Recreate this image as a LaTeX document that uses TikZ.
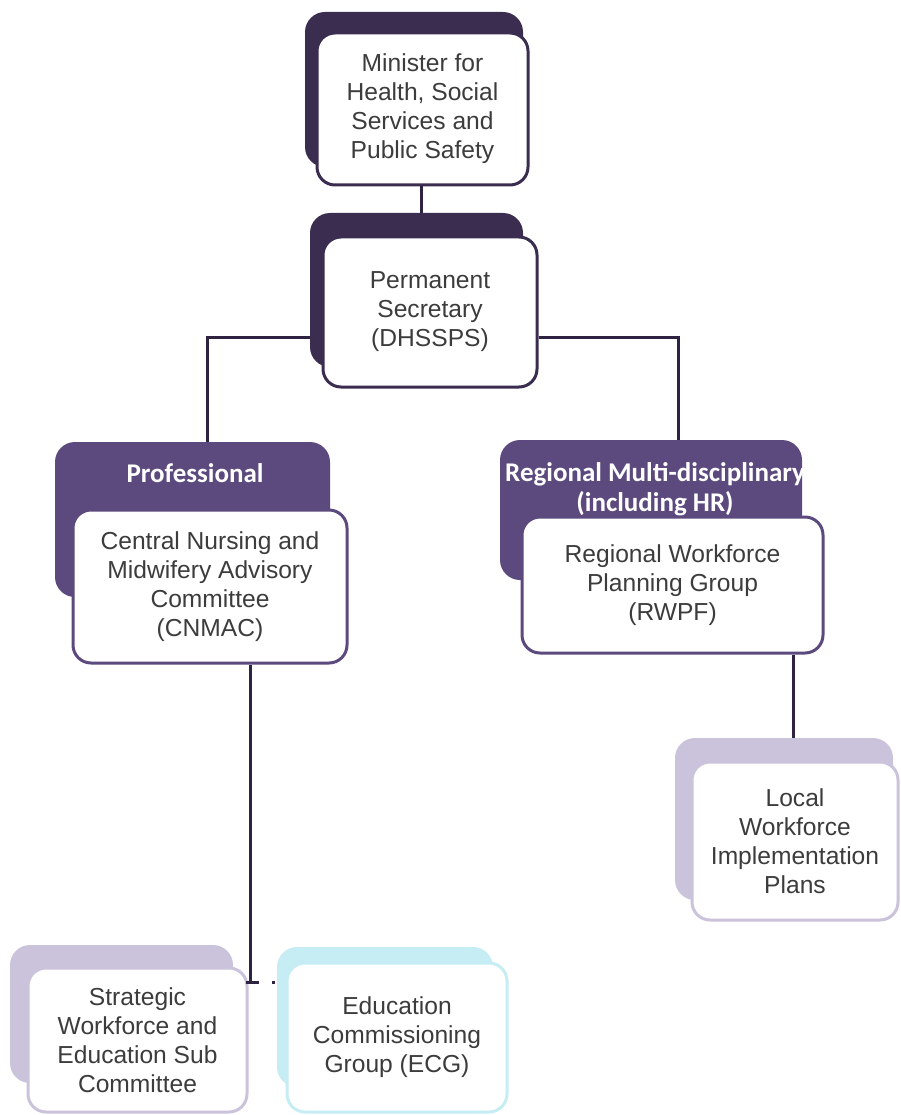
\documentclass[tikz,border=0pt]{standalone}
\usepackage{fontspec}
\setmainfont{Liberation Sans}
\newfontfamily\bodyfont{Liberation Sans}
\newfontfamily\hdrfont{Carlito}
\definecolor{darkp}{HTML}{3B2D50}
\definecolor{midp}{HTML}{5C4A7E}
\definecolor{lavp}{HTML}{CBC3DB}
\definecolor{cyanb}{HTML}{C6EDF4}
\definecolor{txtc}{HTML}{3C3C3C}
\definecolor{linec}{HTML}{2E2442}
\tikzset{
  backbox/.style={rounded corners=20pt, inner sep=0pt},
  frontbox/.style={rounded corners=18pt, fill=white, line width=3pt, inner sep=0pt,
    align=center, text=txtc, font=\bodyfont\fontsize{24.6}{29}\selectfont},
  hdr/.style={text=white, font=\hdrfont\bfseries\fontsize{27}{30}\selectfont, align=center},
  conn/.style={draw=linec, line width=3pt}
}
\begin{document}
\begin{tikzpicture}[x=1pt,y=-1pt]
\useasboundingbox (0,0) rectangle (900,1115);
% Minister
\node[backbox, fill=darkp, minimum width=218pt, minimum height=155pt] (minback) at (414,89.5) {};
\node[frontbox, draw=darkp, minimum width=211pt, minimum height=152pt] (minfront) at (422.5,109) {Minister for\\Health, Social\\Services and\\Public Safety};
% Permanent Secretary
\node[backbox, fill=darkp, minimum width=213pt, minimum height=154pt] (psback) at (416.5,290) {};
\node[frontbox, draw=darkp, minimum width=214pt, minimum height=150pt] (psfront) at (430,312) {Permanent\\Secretary\\(DHSSPS)};
% Professional
\node[backbox, fill=midp, minimum width=275pt, minimum height=155pt] (profback) at (192.5,519.5) {};
\node[hdr] (profhdr) at (195,473) {Professional};
\node[frontbox, draw=midp, minimum width=274pt, minimum height=153pt] (proffront) at (210,586.5) {Central Nursing and\\Midwifery Advisory\\Committee\\(CNMAC)};
% Regional
\node[backbox, fill=midp, minimum width=302pt, minimum height=140pt] (regback) at (651,510) {};
\node[hdr] (reghdr) at (655,489) {Regional Multi-disciplinary\\(including HR)};
\node[frontbox, draw=midp, minimum width=301pt, minimum height=136pt] (regfront) at (672.5,585) {Regional Workforce\\Planning Group\\(RWPF)};
% Local
\node[backbox, fill=lavp, minimum width=218pt, minimum height=162pt] (locback) at (784,819) {};
\node[frontbox, draw=lavp, minimum width=206pt, minimum height=158pt] (locfront) at (795,841) {Local\\Workforce\\Implementation\\Plans};
% Strategic
\node[backbox, fill=lavp, minimum width=223pt, minimum height=138pt] (strback) at (121.5,1014) {};
\node[frontbox, draw=lavp, minimum width=219pt, minimum height=144pt] (strfront) at (137.5,1040) {Strategic\\Workforce and\\Education Sub\\Committee};
% ECG
\node[backbox, fill=cyanb, minimum width=216pt, minimum height=140pt] (ecgback) at (385,1017) {};
\node[frontbox, draw=cyanb, minimum width=220pt, minimum height=149pt] (ecgfront) at (397,1037.5) {Education\\Commissioning\\Group (ECG)};
% connectors
\coordinate (pjoin) at (207,337);
\coordinate (rjoin) at (678,337);
\coordinate (bjoin) at (250,982);
\draw[conn] (minfront.south -| 421,0) -- (psback.north -| 421,0);
\draw[conn] (psback.west |- pjoin) -- (pjoin) -- (profback.north -| pjoin);
\draw[conn] (psfront.east |- rjoin) -- (rjoin) -- (regback.north -| rjoin);
\draw[conn] (regfront.south -| 793,0) -- (locback.north -| 793,0);
\draw[conn] (proffront.south -| bjoin) -- (bjoin);
\draw[conn, dash pattern=on 13pt off 13pt on 3pt off 30pt] (strfront.east |- bjoin) ++(-3,0) -- (ecgback.west |- bjoin);
\end{tikzpicture}
\end{document}
